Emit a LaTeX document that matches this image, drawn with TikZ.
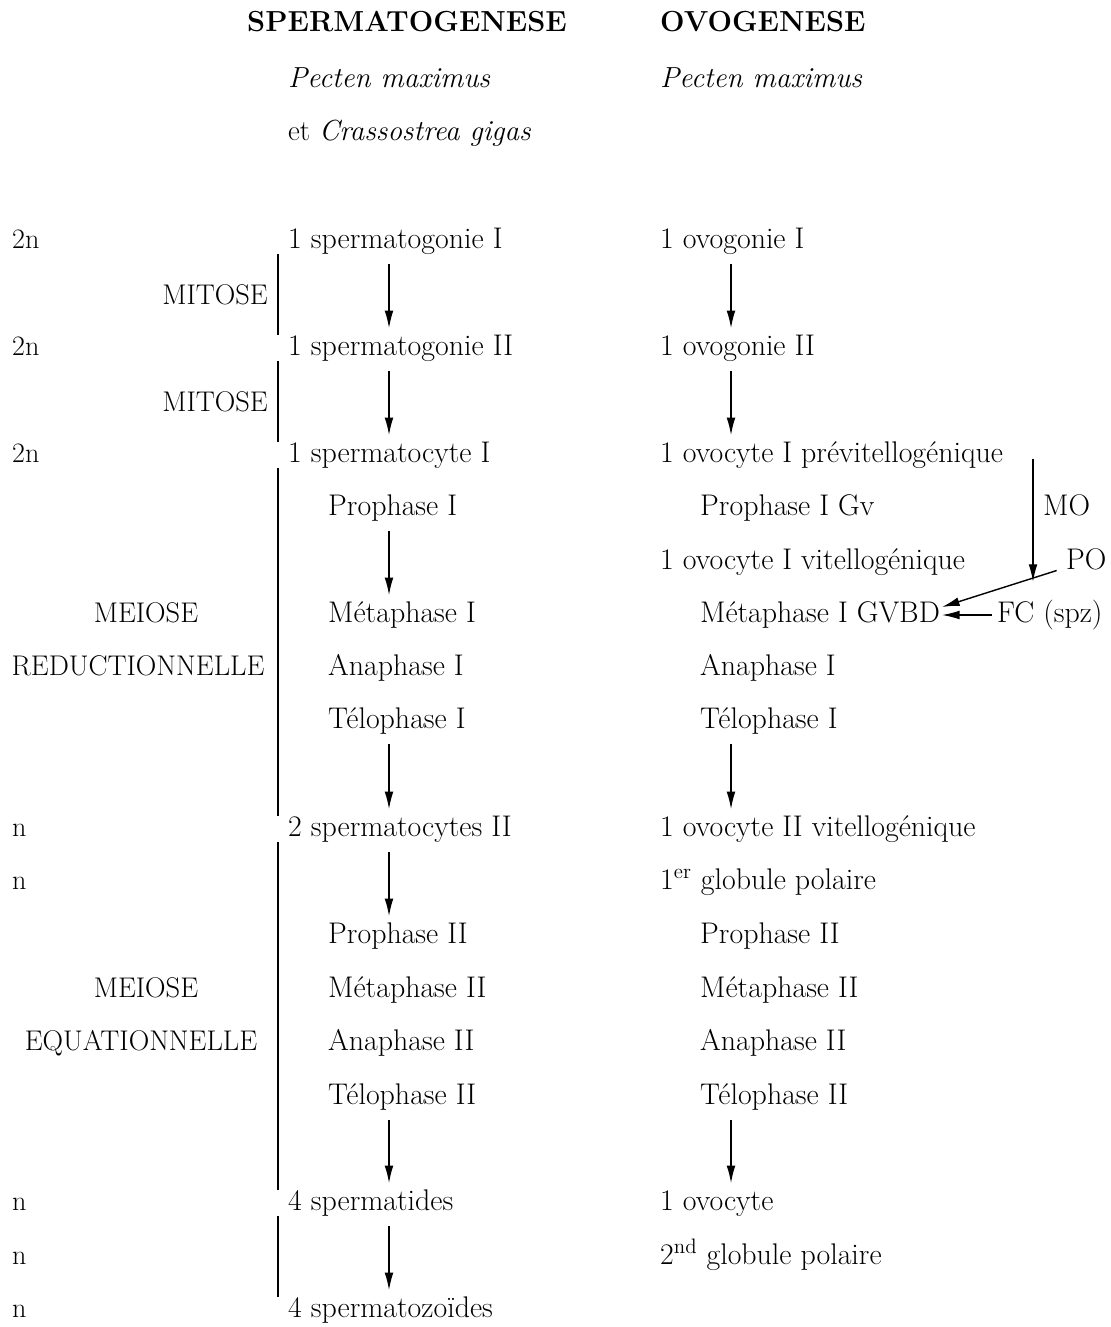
\documentclass[tikz,border=0pt]{standalone}
\usepackage{amsmath}
\usepackage{xcolor}
\usepackage{tikz}
\usetikzlibrary{positioning, arrows.meta, calc}

\begin{document}
\begin{tikzpicture}[
			x=0.02cm, y=-0.02cm,
			% --- Styles ---
			stage/.style={
				anchor=west, text height=12pt, text depth=3.5pt, font=\fontsize{17}{20}\selectfont
			},
			% Ploidy column on the far left
			ploidy/.style={
				anchor=west, text height=12pt, text depth=3.5pt, font=\fontsize{16}{19}\selectfont
			},
			divlabel/.style={
				text height=12pt, text depth=3.5pt, font=\fontsize{16.2}{19}\selectfont
			},
			titlelabel/.style={
				font=\bfseries\fontsize{16.5}{19}\selectfont
			},
			species/.style={
				anchor=west, font=\fontsize{16.5}{19}\selectfont
			},
			line/.style={
				draw, -{Latex[length=10pt,width=5pt]}, line width=0.8pt, shorten <=2pt
			},
			divbar/.style={
				draw, line width=1.3pt, shorten <=-4pt, shorten >=-4pt
			}
			]
			
			% --- Page frame ---
			\useasboundingbox [fill=white] (0,0) rectangle (1110,1327);
			
			% --- 1. Titles ---
			\node [titlelabel] (sp_title) at (407,22) {SPERMATOGENESE};
			\node [titlelabel, anchor=west] (ov_title) at (654,22) {OVOGENESE};
			\node [species] (sp_species) at (282,78) {\textit{Pecten maximus}};
			\node [species] (sp_species2) at (282,133) {et \textit{Crassostrea gigas}};
			\node [species] (ov_species) at (654,78) {\textit{Pecten maximus}};
			
			% --- 2. Ploidy ---
			\node [ploidy] (pl1) at (6,241) {2n};
			\node [ploidy] (pl2) at (6,348) {2n};
			\node [ploidy] (pl3) at (6,455) {2n};
			\node [ploidy] (pl4) at (6,829) {n};
			\node [ploidy] (pl5) at (6,882) {n};
			\node [ploidy] (pl6) at (6,1203) {n};
			\node [ploidy] (pl7) at (6,1257) {n};
			\node [ploidy] (pl8) at (6,1310) {n};
			
			% --- 3. Division labels ---
			\node [divlabel, anchor=east] (mit1) at (274,297) {MITOSE};
			\node [divlabel, anchor=east] (mit2) at (274,404) {MITOSE};
			\node [divlabel] (meio1) at (146,615) {MEIOSE};
			\node [divlabel] (red1) at (138,668) {REDUCTIONNELLE};
			\node [divlabel] (meio2) at (146,990) {MEIOSE};
			\node [divlabel] (equ2) at (141,1043) {EQUATIONNELLE};
			
			% --- 4. Spermatogenese branch ---
			\node [stage] (sg1) at (282,241) {1 spermatogonie I};
			\node [stage] (sg2) at (282,348) {1 spermatogonie II};
			\node [stage] (sc1) at (282,455) {1 spermatocyte I};
			\node [stage] (sp_pro1) at (322,508) {Prophase I};
			\node [stage] (sp_met1) at (322,615) {Métaphase I};
			\node [stage] (sp_ana1) at (322,668) {Anaphase I};
			\node [stage] (sp_tel1) at (322,721) {Télophase I};
			\node [stage] (sc2) at (282,829) {2 spermatocytes II};
			\node [stage] (sp_pro2) at (322,936) {Prophase II};
			\node [stage] (sp_met2) at (322,990) {Métaphase II};
			\node [stage] (sp_ana2) at (322,1043) {Anaphase II};
			\node [stage] (sp_tel2) at (322,1097) {Télophase II};
			\node [stage] (std) at (282,1203) {4 spermatides};
			\node [stage] (spz) at (282,1310) {4 spermatozoïdes};
			
			% --- 5. Ovogenese branch ---
			\node [stage] (og1) at (654,241) {1 ovogonie I};
			\node [stage] (og2) at (654,348) {1 ovogonie II};
			\node [stage] (oc1) at (654,455) {1 ovocyte I prévitellogénique};
			\node [stage] (ov_pro1) at (694,508) {Prophase I Gv};
			\node [stage] (oc1v) at (654,562) {1 ovocyte I vitellogénique};
			\node [stage, inner xsep=1pt] (ov_met1) at (698,615) {Métaphase I GVBD};
			\node [stage] (ov_ana1) at (694,668) {Anaphase I};
			\node [stage] (ov_tel1) at (694,721) {Télophase I};
			\node [stage] (oc2) at (654,829) {1 ovocyte II vitellogénique};
			\node [stage] (gp1) at (654,882) {1\textsuperscript{er} globule polaire};
			\node [stage] (ov_pro2) at (694,936) {Prophase II};
			\node [stage] (ov_met2) at (694,990) {Métaphase II};
			\node [stage] (ov_ana2) at (694,1043) {Anaphase II};
			\node [stage] (ov_tel2) at (694,1097) {Télophase II};
			\node [stage] (oo) at (654,1203) {1 ovocyte};
			\node [stage] (gp2) at (654,1257) {2\textsuperscript{nd} globule polaire};
			
			% Maturation factors
			\node [stage] (mo) at (1037,508) {MO};
			\node [stage] (po) at (1060,562) {PO};
			\node [stage, inner xsep=1pt] (fc) at (995,615) {FC (spz)};
			
			% --- 6. Connections ---
			\coordinate (sp_axis) at (389,0);
			\coordinate (ov_axis) at (731,0);
			\coordinate (bar_axis) at (278,0);
			\coordinate (mo_axis) at (1033,0);
			
			% Spermatogenese arrows
			\draw [line] (sg1.south -| sp_axis) -- (sg2.north -| sp_axis);
			\draw [line] (sg2.south -| sp_axis) -- (sc1.north -| sp_axis);
			\draw [line] (sp_pro1.south -| sp_axis) -- (sp_met1.north -| sp_axis);
			\draw [line] (sp_tel1.south -| sp_axis) -- (sc2.north -| sp_axis);
			\draw [line] (sc2.south -| sp_axis) -- (sp_pro2.north -| sp_axis);
			\draw [line] (sp_tel2.south -| sp_axis) -- (std.north -| sp_axis);
			\draw [line] (std.south -| sp_axis) -- (spz.north -| sp_axis);
			
			% Ovogenese arrows
			\draw [line] (og1.south -| ov_axis) -- (og2.north -| ov_axis);
			\draw [line] (og2.south -| ov_axis) -- (oc1.north -| ov_axis);
			\draw [line] (ov_tel1.south -| ov_axis) -- (oc2.north -| ov_axis);
			\draw [line] (ov_tel2.south -| ov_axis) -- (oo.north -| ov_axis);
			
			% Factors acting on the oocyte
			\draw [line] (oc1.east -| mo_axis) -- (oc1v.south -| mo_axis);
			\draw [line] (po.base west) -- ($(ov_met1.east)+(0,-8)$);
			\draw [line] (fc.west) -- (ov_met1.east);
			
			% --- 7. Division bars ---
			\draw [divbar] (sg1.south -| bar_axis) -- (sg2.north -| bar_axis);
			\draw [divbar] (sg2.south -| bar_axis) -- (sc1.north -| bar_axis);
			\draw [divbar] (sc1.south -| bar_axis) -- (sc2.north -| bar_axis);
			\draw [divbar] (sc2.south -| bar_axis) -- (std.north -| bar_axis);
			\draw [divbar] (std.south -| bar_axis) -- (spz.north -| bar_axis);
			
		\end{tikzpicture}
\end{document}
